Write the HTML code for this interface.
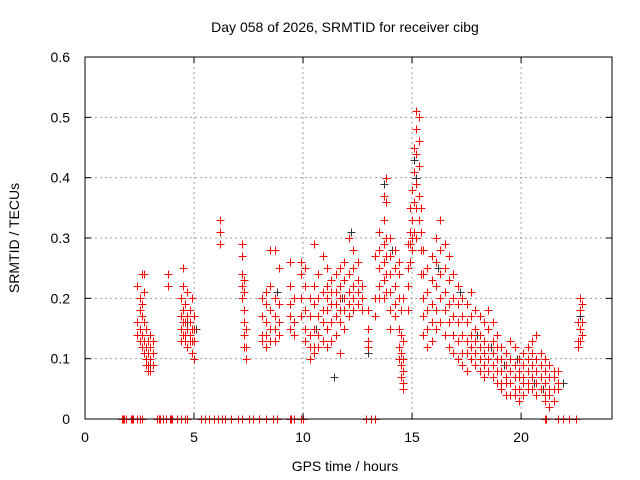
<!DOCTYPE html>
<html><head><meta charset="utf-8"><style>
body{margin:0;background:#fff}
svg{display:block;font-family:"Liberation Sans",sans-serif}
</style></head><body>
<svg id="chart" width="640" height="480" viewBox="0 0 640 480">
<rect width="640" height="480" fill="#fff"/>
<text x="345" y="32" font-size="14" text-anchor="middle">Day 058 of 2026, SRMTID for receiver cibg</text>
<text transform="translate(19,238) rotate(-90)" font-size="14" text-anchor="middle">SRMTID / TECUs</text>
<text x="345" y="471" font-size="14" text-anchor="middle">GPS time / hours</text>
<g id="grid"></g><g id="marks"></g><g id="axes"></g>
</svg>
<script>
const xTicks=[0,5,10,15,20];
const yTicks=[0,0.1,0.2,0.3,0.4,0.5,0.6];
const yTickLabels=["0","0.1","0.2","0.3","0.4","0.5","0.6"];
const redRows=[
[2.4,.22,.16,.14],[2.5,.2,.18,.15,.13],[2.6,.24,.19,.17,.14,.12],[2.7,.24,.21,.16,.13,.11],[2.8,.15,.12,.1,.09],[2.9,.13,.11,.09,.08],[3.0,.14,.12,.1,.08],[3.1,.13,.11,.09],
[3.8,.24,.22],
[4.4,.2,.17,.15,.13],[4.5,.25,.22,.18,.16,.14],[4.6,.19,.16,.14,.13],[4.7,.21,.17,.15,.12],[4.8,.18,.16,.14,.13],[4.9,.2,.15,.13,.11],[5.0,.17,.15,.13,.1],
[6.2,.33,.31,.29],
[7.2,.29,.27,.24,.22,.2],[7.3,.23,.21,.18,.16,.14,.12],[7.4,.15,.12,.1],
[8.1,.2,.17,.14,.13],[8.3,.21,.19,.16,.14,.12],[8.5,.28,.22,.18,.15,.13],[8.7,.28,.2,.17,.15,.13],[8.9,.25,.19,.16,.14],
[9.4,.26,.22,.19,.17,.15],[9.6,.2,.16,.14],[9.9,.26,.24,.2,.17],[10.1,.25,.22,.18,.15,.13],
[10.3,.2,.17,.14,.12,.1],[10.5,.29,.22,.19,.15,.12,.11],[10.7,.24,.2,.17,.14,.12],[10.9,.27,.21,.18,.16,.13],
[11.1,.25,.22,.2,.18,.15,.12],[11.3,.23,.21,.19,.16,.13],[11.5,.24,.21,.19,.17,.14],[11.7,.25,.22,.2,.18,.16,.11],
[11.9,.26,.23,.2,.18,.15],[12.1,.3,.24,.21,.19,.17],[12.3,.28,.25,.22,.2,.18],[12.5,.26,.23,.21,.19],[12.7,.22,.2,.18],
[13.0,.18,.15,.13,.12],[13.3,.27,.2,.17],[13.5,.31,.28,.25,.22,.2],[13.7,.37,.33,.29,.26,.23,.2],[13.8,.4,.36,.3,.27,.24,.21],
[14.0,.3,.27,.24,.21,.18,.15],[14.2,.28,.25,.22,.19,.17],[14.4,.26,.24,.2,.15,.12,.1],[14.5,.18,.14,.11,.09,.07],[14.6,.2,.13,.1,.08,.06,.05],
[14.8,.29,.25,.22,.18],[14.9,.35,.31,.29,.26],[15.0,.38,.33,.3,.28],[15.1,.45,.41,.36,.31],[15.2,.51,.48,.44,.39,.35,.3],[15.3,.5,.46,.42,.37,.33],[15.4,.35,.31,.28,.24],
[15.5,.28,.24,.2,.17,.14],[15.7,.25,.21,.18,.15,.12],[15.9,.27,.23,.19,.16,.13],[16.1,.3,.26,.22,.18,.15],[16.3,.33,.28,.24,.2,.16],[16.5,.29,.25,.21,.18,.14],
[16.7,.27,.23,.19,.16,.12],[16.9,.24,.2,.17,.14,.11],[17.1,.22,.19,.16,.13,.1],[17.3,.2,.17,.14,.11,.09],[17.5,.19,.16,.13,.11,.08],[17.7,.21,.17,.14,.12,.1],
[17.9,.18,.15,.13,.11,.09],[18.1,.17,.14,.12,.1,.08],[18.3,.16,.13,.11,.09,.07],[18.5,.18,.15,.12,.1,.08],[18.7,.16,.13,.11,.09,.07],[18.9,.14,.12,.1,.08,.06],
[19.1,.12,.1,.08,.06,.05],[19.3,.11,.09,.07,.06,.04],[19.5,.13,.1,.08,.06,.04],[19.7,.12,.09,.07,.05,.04],[19.9,.1,.08,.07,.05,.03],
[20.1,.11,.09,.07,.06,.04],[20.3,.12,.1,.08,.06,.05],[20.5,.13,.11,.09,.07,.05],[20.7,.14,.1,.08,.06,.04],[20.9,.11,.09,.07,.05],
[21.1,.1,.08,.06,.04,.03],[21.3,.09,.07,.05,.04,.02],[21.5,.08,.07,.05,.03],[21.7,.08,.06,.05],
[22.6,.16,.13,.12],[22.7,.2,.18,.15,.13],[22.8,.19,.16,.14]
];
const redZeroHours=[1.7,1.75,1.8,1.9,2.1,2.15,2.2,2.4,2.5,2.6,3.3,3.4,3.45,3.6,3.7,3.9,3.95,4.0,4.2,4.4,4.6,4.7,5.3,5.5,5.7,5.9,6.1,6.3,6.4,6.7,7.0,7.2,7.5,7.7,8.0,8.3,8.6,8.8,9.4,9.45,9.6,9.9,10.0,12.9,13.1,13.3,21.1,21.15,21.7,21.9,22.2,22.5];
const blackRows=[
[2.7,.13],[3.0,.09],[4.7,.16],[5.1,.15],[8.8,.21],[10.6,.15],[11.4,.07],[11.8,.2],[12.2,.31],[13.0,.11],[13.7,.39],[14.1,.28],
[15.1,.43],[15.2,.4],[16.2,.25],[17.2,.21],[18.0,.14],[18.6,.12],[19.2,.09],[19.8,.1],[20.1,.07],[20.6,.06],[21.0,.05],[21.9,.06],[22.7,.17]
];
const L=85,R=612,T=57,B=419,xMax=24.17,yMax=0.6;
const xs=v=>L+(R-L)*v/xMax, ys=v=>B-(B-T)*v/yMax;
const NS="http://www.w3.org/2000/svg";
function mk(tag,attrs,parent){const e=document.createElementNS(NS,tag);for(const k in attrs)e.setAttribute(k,attrs[k]);parent.appendChild(e);return e;}
const grid=document.getElementById('grid'),marks=document.getElementById('marks'),axes=document.getElementById('axes');
yTicks.forEach((t,i)=>{const y=ys(t);
 if(i>0&&i<yTicks.length-1){const g=mk('line',{x1:L,x2:R,y1:y,y2:y,stroke:'#a0a0a0','stroke-dasharray':'2,3'},grid);
 
 }
 mk('line',{x1:L,x2:L+6,y1:y,y2:y,stroke:'#000'},axes);mk('line',{x1:R,x2:R-6,y1:y,y2:y,stroke:'#000'},axes);
 const tx=mk('text',{x:70,y:y+5,'font-size':14,'text-anchor':'end'},axes);tx.textContent=yTickLabels[i];
 
 
});
xTicks.forEach(t=>{const x=xs(t);
 if(t>0){const g=mk('line',{x1:x,x2:x,y1:T,y2:B,stroke:'#a0a0a0','stroke-dasharray':'2,3'},grid);
 
 }
 mk('line',{x1:x,x2:x,y1:B,y2:B-6,stroke:'#000'},axes);mk('line',{x1:x,x2:x,y1:T,y2:T+6,stroke:'#000'},axes);
 const tx=mk('text',{x:x,y:442,'font-size':14,'text-anchor':'middle'},axes);tx.textContent=String(t);
 
 
});
const frame=mk('rect',{x:L,y:T,width:R-L,height:B-T,fill:'none',stroke:'#000'},axes);


function plus(h,v,color){const x=Math.round(xs(h))+.5,y=Math.round(ys(v))+.5;
 const p=mk('path',{d:`M${x-4} ${y}H${x+4}M${x} ${y-4}V${y+4}`,stroke:color,'stroke-width':1,fill:'none'},marks);
 return p;}
blackRows.forEach(r=>{for(let i=1;i<r.length;i++){const p=plus(r[0],r[i],'#333');
 
 }});
redRows.forEach(r=>{for(let i=1;i<r.length;i++){const p=plus(r[0],r[i],'#f00');
 
 }});
redZeroHours.forEach(h=>{const p=plus(h,0,'#f00');
 
 });
</script>
</body></html>
